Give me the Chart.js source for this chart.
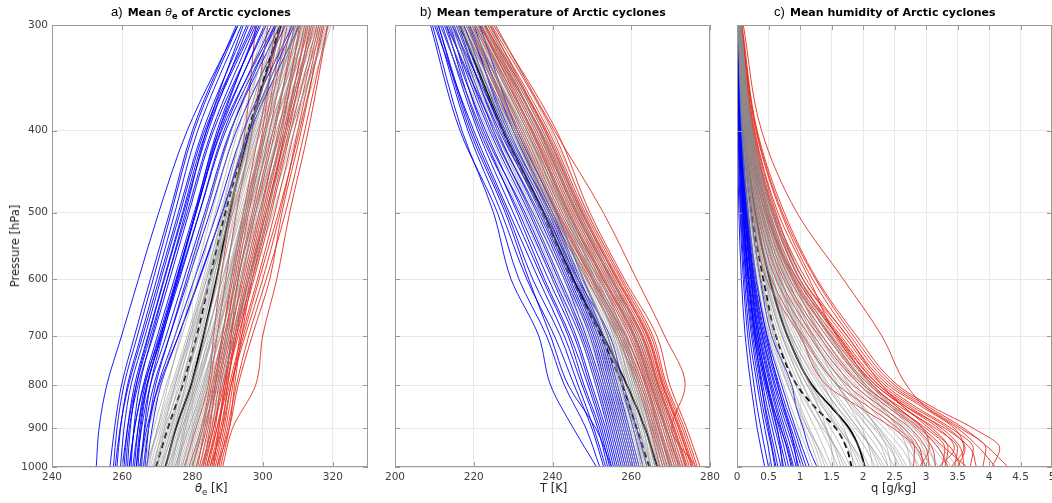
<!DOCTYPE html>
<html>
<head>
<meta charset="utf-8">
<script src="https://cdn.jsdelivr.net/npm/chart.js@4.4.1/dist/chart.umd.min.js"></script>
<style>
  body { margin: 0; background: #fff; }
  #fig { position: relative; width: 1052px; height: 503px; overflow: hidden; background: #fff; font-family: "DejaVu Sans", sans-serif; }
  #fig canvas { position: absolute; top: 0; }
  .ttl { position: absolute; top: 1px; white-space: nowrap; color: #000; line-height: 20px; }
  .ttl .tag { font-family: "Liberation Sans", sans-serif; font-size: 13px; }
  .ttl .txt { font-family: "DejaVu Sans", sans-serif; font-weight: bold; font-size: 11px; }
  .ttl i { font-weight: normal; }
  .axl { position: absolute; white-space: nowrap; color: #262626; font-size: 11.5px; line-height: 14px; }
  sub { font-size: 75%; vertical-align: -3px; line-height: 0; }
</style>
</head>
<body>
<div id="fig">
  <canvas id="cA" width="380" height="503" style="left:0;width:380px;height:503px"></canvas>
  <canvas id="cB" width="350" height="503" style="left:375px;width:350px;height:503px"></canvas>
  <canvas id="cC" width="330" height="503" style="left:722px;width:330px;height:503px"></canvas>

  <div class="ttl" style="left:111px"><span class="tag">a)</span> <span class="txt">Mean <i>θ</i><sub>e</sub> of Arctic cyclones</span></div>
  <div class="ttl" style="left:420px"><span class="tag">b)</span> <span class="txt">Mean temperature of Arctic cyclones</span></div>
  <div class="ttl" style="left:774px"><span class="tag">c)</span> <span class="txt">Mean humidity of Arctic cyclones</span></div>

  <div class="axl" style="left:195px;top:481px"><i>θ</i><sub>e</sub> [K]</div>
  <div class="axl" style="left:540px;top:481px">T [K]</div>
  <div class="axl" style="left:871px;top:481px">q [g/kg]</div>
  <div class="axl" style="left:15px;top:246px;transform:translate(-50%,-50%) rotate(-90deg);">Pressure [hPa]</div>
</div>

<script>
// ---------- pressure levels and tick labels ----------
const pressureTicks = [300, 400, 500, 600, 700, 800, 900, 1000];
const thetaTicks = [240, 260, 280, 300, 320];
const tempTicks = [200, 220, 240, 260, 280];
const qTicks = [0, 0.5, 1, 1.5, 2, 2.5, 3, 3.5, 4, 4.5, 5];

// levels (hPa) at which each profile is given
const levelsTheta = [1000, 900, 800, 700, 600, 500, 400, 300];
const levelsTemp  = [1000, 900, 800, 700, 600, 500, 400, 300];
const levelsQ     = [1000, 950, 900, 850, 800, 700, 600, 500, 400, 300];

// ---------- a) equivalent potential temperature [K] ----------
const thetaMean   = [272.3, 275.3, 279.6, 283.1, 286.8, 290.6, 296.3, 305.3];
const thetaMedian = [269.6, 273.0, 277.2, 281.2, 284.9, 289.4, 295.9, 305.0];
const thetaCold = [
  [252.6, 253.4, 255.6, 259.8, 264.6, 270.4, 278.5, 293.0],
  [256.5, 257.8, 259.8, 263.5, 268.0, 273.5, 280.0, 292.5],
  [258.0, 259.4, 261.8, 265.8, 270.5, 276.0, 283.0, 295.5],
  [259.5, 260.5, 262.5, 266.5, 271.0, 276.5, 283.5, 297.0],
  [260.0, 261.5, 264.0, 268.0, 272.8, 278.5, 285.5, 298.0],
  [261.0, 262.0, 264.5, 268.8, 273.5, 279.0, 286.0, 299.5],
  [261.5, 262.3, 264.0, 267.5, 272.0, 277.5, 284.5, 296.0],
  [262.0, 263.5, 266.0, 270.0, 274.8, 280.5, 287.5, 301.0],
  [262.5, 263.3, 265.0, 268.5, 272.8, 278.0, 284.0, 294.5],
  [263.0, 264.5, 267.0, 271.3, 276.3, 282.0, 289.0, 302.5],
  [263.5, 264.5, 266.5, 270.5, 275.3, 281.0, 288.3, 303.5],
  [264.0, 265.5, 268.0, 272.5, 277.5, 283.5, 290.8, 305.0],
  [264.5, 265.3, 267.2, 271.0, 275.5, 280.8, 287.0, 299.0],
  [265.0, 266.5, 269.0, 273.5, 278.8, 285.0, 292.5, 306.5],
  [265.5, 266.3, 268.0, 271.5, 275.8, 281.0, 287.5, 298.5],
  [266.0, 267.5, 270.2, 275.0, 280.5, 287.0, 294.5, 308.5],
  [266.5, 267.5, 269.5, 273.5, 278.3, 284.0, 291.0, 303.5],
  [267.0, 268.5, 271.0, 276.0, 281.8, 288.5, 296.5, 310.5],
  [258.5, 259.5, 261.5, 265.3, 269.8, 275.0, 281.5, 294.0],
  [260.5, 261.5, 263.5, 267.3, 271.8, 277.2, 284.0, 297.5],
  [262.0, 263.5, 266.2, 270.8, 276.0, 282.0, 289.5, 304.0],
  [264.0, 265.0, 267.0, 271.0, 275.5, 281.0, 288.0, 300.5],
  [257.5, 258.5, 260.5, 264.3, 268.8, 274.0, 280.5, 293.0],
  [265.0, 267.0, 270.5, 276.0, 282.0, 288.5, 296.0, 309.0]
];
const thetaWarm = [
  [277.7, 281.0, 284.5, 286.0, 288.0, 291.0, 295.0, 298.0],
  [279.0, 282.5, 285.0, 287.0, 289.5, 292.5, 297.0, 301.5],
  [280.0, 283.0, 285.5, 288.5, 291.0, 294.5, 299.0, 305.0],
  [281.0, 284.0, 286.0, 289.0, 292.5, 296.0, 301.0, 307.0],
  [282.0, 284.5, 287.0, 290.0, 293.0, 297.5, 303.0, 310.0],
  [282.5, 285.5, 287.5, 290.5, 294.5, 299.0, 305.0, 312.0],
  [283.0, 285.0, 286.5, 288.5, 291.5, 295.0, 300.0, 303.5],
  [283.5, 286.0, 288.5, 292.0, 296.0, 301.0, 306.5, 314.0],
  [284.0, 286.5, 288.0, 291.0, 294.0, 298.0, 303.5, 309.0],
  [284.5, 287.0, 289.5, 293.0, 297.5, 302.5, 308.0, 315.5],
  [285.0, 287.5, 289.0, 291.5, 295.0, 299.5, 304.5, 311.0],
  [285.5, 288.0, 290.5, 294.0, 298.5, 303.5, 309.0, 316.0],
  [286.0, 288.5, 290.0, 292.5, 296.0, 300.5, 306.0, 313.0],
  [286.5, 289.0, 291.0, 294.5, 299.0, 304.5, 310.5, 317.5],
  [287.0, 289.5, 291.5, 293.5, 296.5, 301.0, 307.0, 314.5],
  [287.5, 290.0, 292.5, 296.0, 301.0, 306.5, 312.0, 318.5],
  [288.0, 290.5, 292.0, 294.0, 297.0, 301.5, 306.5, 312.5],
  [288.6, 291.4, 298.0, 300.0, 304.0, 307.7, 313.0, 318.6],
  [281.5, 283.5, 286.5, 289.5, 292.0, 295.5, 300.5, 306.0],
  [284.0, 287.0, 290.0, 292.0, 295.5, 300.0, 305.5, 310.5],
  [285.0, 288.5, 291.0, 295.0, 300.0, 305.0, 310.0, 316.5],
  [286.0, 287.5, 289.5, 291.0, 293.0, 297.0, 302.0, 308.0],
  [283.0, 286.0, 289.0, 292.5, 297.0, 302.0, 307.5, 313.5],
  [287.0, 290.5, 293.0, 297.0, 302.0, 305.5, 311.0, 317.0]
];
const thetaOther = [
  [265.0, 267.5, 271.0, 275.0, 279.0, 284.0, 291.0, 301.0],
  [266.0, 269.0, 272.5, 277.0, 281.5, 286.5, 293.0, 303.0],
  [267.0, 270.0, 274.0, 278.5, 283.0, 288.0, 294.5, 304.5],
  [268.0, 271.0, 275.0, 279.0, 283.5, 289.0, 296.0, 306.0],
  [268.5, 272.0, 276.5, 280.5, 285.0, 290.0, 297.0, 308.0],
  [269.0, 272.5, 276.0, 279.5, 284.0, 288.5, 294.0, 302.5],
  [270.0, 273.5, 277.5, 282.0, 286.5, 291.5, 298.0, 309.0],
  [270.5, 274.0, 278.0, 281.0, 285.0, 289.5, 295.5, 304.0],
  [271.0, 275.0, 279.0, 283.0, 287.5, 292.5, 299.0, 310.5],
  [271.5, 274.5, 278.5, 282.5, 286.0, 290.5, 296.5, 305.5],
  [272.0, 275.5, 279.5, 284.0, 288.5, 293.5, 300.5, 311.5],
  [272.5, 276.0, 280.0, 283.5, 287.0, 291.0, 297.0, 307.0],
  [273.0, 276.5, 280.5, 285.0, 289.5, 294.5, 301.5, 313.0],
  [273.5, 277.0, 281.0, 284.5, 288.0, 292.0, 298.5, 308.5],
  [274.0, 277.5, 281.5, 286.0, 290.5, 296.0, 303.0, 314.0],
  [274.5, 278.0, 282.0, 285.5, 289.0, 293.0, 299.5, 309.5],
  [275.0, 278.5, 282.5, 287.0, 291.5, 297.0, 304.0, 315.5],
  [275.5, 279.0, 283.0, 286.5, 290.0, 294.5, 300.5, 310.0],
  [276.0, 279.5, 283.5, 288.0, 292.5, 298.0, 305.0, 316.0],
  [276.5, 280.0, 284.0, 287.5, 291.0, 295.5, 302.0, 312.0],
  [277.0, 280.5, 284.5, 289.0, 294.0, 299.5, 306.5, 317.5],
  [277.5, 281.0, 285.0, 288.5, 292.0, 296.5, 303.0, 312.5],
  [278.0, 281.5, 285.5, 290.0, 295.0, 301.0, 308.0, 319.0],
  [278.5, 282.0, 286.0, 289.5, 293.0, 297.5, 304.0, 313.5],
  [279.0, 282.5, 286.5, 291.0, 296.0, 302.0, 309.0, 318.0],
  [280.0, 283.0, 287.0, 290.5, 294.0, 298.5, 305.0, 314.5],
  [280.5, 283.5, 287.5, 292.0, 297.0, 303.0, 310.0, 319.5],
  [281.0, 284.0, 288.0, 291.5, 295.5, 300.0, 306.0, 315.0],
  [269.5, 273.0, 277.0, 281.5, 286.0, 290.5, 296.5, 305.0],
  [271.0, 274.0, 277.0, 280.5, 284.5, 289.0, 295.0, 303.5],
  [273.0, 277.0, 281.0, 285.5, 290.0, 295.0, 302.0, 311.0],
  [275.0, 279.0, 283.0, 287.0, 291.0, 296.0, 303.0, 313.0],
  [277.0, 280.0, 283.5, 287.0, 290.5, 295.0, 301.0, 309.5],
  [279.5, 283.0, 287.0, 290.0, 293.5, 298.0, 304.5, 312.0],
  [266.5, 270.5, 274.5, 279.0, 284.0, 290.0, 297.5, 307.5],
  [282.0, 285.0, 288.5, 292.0, 296.5, 301.5, 307.5, 317.0],
  [267.5, 270.0, 273.0, 276.5, 280.5, 285.5, 292.0, 301.5],
  [269.0, 271.5, 275.5, 280.0, 285.0, 291.0, 298.5, 309.5],
  [272.5, 275.0, 278.0, 281.5, 285.5, 290.0, 296.0, 304.5],
  [274.0, 276.5, 280.0, 284.0, 288.5, 294.0, 301.0, 310.5],
  [276.0, 278.0, 281.5, 285.5, 290.0, 295.5, 302.5, 311.5],
  [278.0, 280.5, 284.0, 288.0, 292.5, 298.0, 305.5, 315.0],
  [280.0, 282.5, 286.0, 289.5, 293.5, 299.0, 306.5, 316.5],
  [283.0, 285.5, 288.5, 292.0, 296.0, 301.0, 308.0, 318.5],
  [270.0, 272.0, 275.0, 279.5, 285.0, 291.5, 299.5, 310.0],
  [275.5, 277.5, 280.5, 283.5, 287.0, 291.5, 297.5, 306.5]
];

// ---------- b) temperature [K] ----------
const tempMean   = [266.6, 263.5, 258.9, 252.9, 245.3, 237.7, 227.5, 216.5];
const tempMedian = [264.6, 261.4, 257.7, 252.3, 245.0, 237.5, 227.4, 216.4];
const tempCold = [
  [251.2, 245.3, 239.5, 236.5, 229.5, 225.0, 217.0, 209.5],
  [252.0, 248.5, 243.0, 238.5, 231.5, 226.0, 216.5, 209.0],
  [253.0, 250.0, 245.5, 240.5, 233.5, 227.0, 218.5, 210.5],
  [253.5, 250.5, 246.5, 242.0, 235.0, 228.5, 219.5, 211.0],
  [254.0, 251.5, 247.5, 243.0, 236.5, 229.0, 220.0, 210.0],
  [254.5, 252.0, 248.0, 244.0, 237.5, 230.0, 221.0, 212.0],
  [255.0, 252.5, 249.0, 244.5, 238.0, 231.0, 222.0, 211.5],
  [255.5, 253.0, 249.5, 245.5, 239.0, 231.5, 221.5, 213.0],
  [256.0, 253.5, 250.0, 246.0, 240.0, 232.5, 223.0, 212.5],
  [256.5, 254.0, 251.0, 247.0, 240.5, 233.0, 222.5, 214.0],
  [257.0, 254.5, 251.5, 247.5, 241.5, 234.0, 224.0, 213.5],
  [257.5, 255.0, 252.0, 248.0, 242.0, 234.5, 225.0, 215.0],
  [258.0, 255.5, 252.5, 248.5, 243.0, 235.0, 224.5, 214.5],
  [258.5, 256.0, 253.0, 249.5, 243.5, 236.0, 226.0, 216.0],
  [259.0, 256.5, 253.5, 250.0, 244.0, 236.5, 225.5, 213.0],
  [259.5, 257.0, 254.0, 250.5, 244.5, 237.0, 227.0, 216.5],
  [260.0, 257.5, 254.5, 251.0, 245.0, 237.5, 226.5, 215.5],
  [260.5, 258.0, 255.0, 251.5, 245.5, 238.5, 228.0, 217.5],
  [261.0, 258.5, 255.5, 252.0, 246.0, 239.0, 229.0, 218.5],
  [261.5, 259.0, 256.0, 252.5, 246.5, 239.5, 228.5, 219.0],
  [262.0, 259.5, 256.5, 253.0, 247.0, 240.0, 230.0, 220.0],
  [263.0, 260.5, 257.5, 254.0, 247.8, 241.0, 231.0, 221.5],
  [255.0, 251.0, 244.0, 239.5, 234.0, 228.0, 219.0, 211.0],
  [264.0, 261.4, 258.0, 254.6, 246.5, 238.0, 227.5, 214.5]
];
const tempWarm = [
  [267.3, 264.8, 261.5, 256.4, 248.7, 239.4, 230.0, 217.3],
  [268.0, 265.3, 262.0, 257.0, 249.5, 240.0, 230.5, 218.0],
  [268.6, 265.8, 262.5, 257.5, 250.0, 240.8, 231.5, 218.5],
  [269.2, 266.3, 263.0, 258.0, 250.5, 241.5, 232.0, 219.5],
  [269.8, 266.8, 263.5, 258.8, 251.0, 242.0, 232.5, 218.8],
  [270.4, 267.4, 264.0, 259.5, 251.8, 242.5, 233.5, 220.0],
  [271.0, 268.0, 264.4, 260.0, 252.3, 243.3, 234.0, 220.5],
  [271.5, 268.5, 264.8, 260.5, 252.8, 243.8, 234.5, 221.0],
  [272.0, 269.0, 265.3, 261.0, 253.3, 244.3, 235.0, 220.3],
  [272.6, 269.5, 265.8, 261.5, 253.8, 244.8, 235.5, 221.5],
  [273.2, 270.0, 266.2, 262.0, 254.3, 245.3, 236.0, 222.0],
  [273.8, 270.5, 266.6, 262.5, 254.8, 245.8, 236.5, 222.5],
  [274.3, 271.0, 267.0, 263.0, 255.3, 246.3, 237.0, 221.3],
  [274.8, 271.5, 267.4, 263.5, 255.8, 246.8, 237.5, 223.0],
  [275.3, 272.0, 267.8, 264.0, 256.3, 247.3, 238.0, 223.5],
  [275.8, 272.5, 268.2, 264.5, 256.8, 247.8, 238.5, 222.8],
  [276.3, 273.0, 268.6, 265.0, 257.3, 248.3, 239.0, 224.0],
  [276.8, 273.5, 269.0, 265.5, 257.8, 248.8, 240.0, 224.5],
  [277.5, 274.1, 269.8, 266.5, 258.3, 249.5, 241.0, 225.0],
  [276.5, 270.3, 273.7, 268.5, 261.4, 252.9, 240.5, 225.5],
  [270.0, 267.0, 263.8, 258.5, 250.2, 241.2, 231.0, 219.0],
  [272.3, 268.8, 265.0, 260.8, 253.0, 244.0, 234.8, 221.8],
  [274.0, 270.8, 266.8, 262.8, 255.0, 246.0, 236.8, 222.8],
  [275.5, 272.2, 268.0, 264.2, 256.5, 247.5, 238.2, 224.2]
];
const tempOther = [
  [258.0, 255.5, 252.0, 248.0, 241.0, 233.5, 223.5, 212.5],
  [259.0, 256.5, 253.0, 249.0, 242.0, 234.5, 224.5, 213.5],
  [260.0, 257.5, 254.0, 250.0, 243.0, 235.5, 225.5, 214.5],
  [261.0, 258.5, 255.0, 251.0, 244.0, 236.5, 226.0, 215.0],
  [262.0, 259.5, 256.0, 252.0, 245.0, 237.0, 227.0, 215.5],
  [262.5, 260.0, 256.5, 252.5, 246.0, 238.0, 228.0, 216.5],
  [263.0, 260.5, 257.0, 253.0, 246.5, 238.5, 228.5, 217.0],
  [263.5, 261.0, 257.5, 253.5, 247.0, 239.0, 229.0, 216.0],
  [264.0, 261.5, 258.0, 254.0, 247.5, 239.5, 229.5, 218.0],
  [264.5, 262.0, 258.5, 254.5, 248.0, 240.0, 230.0, 217.5],
  [265.0, 262.5, 259.0, 255.0, 248.5, 240.5, 230.5, 218.5],
  [265.5, 263.0, 259.5, 255.5, 249.0, 241.0, 231.0, 219.0],
  [266.0, 263.5, 260.0, 256.0, 249.5, 241.5, 231.5, 218.0],
  [266.5, 264.0, 260.5, 256.5, 250.0, 242.0, 232.0, 219.5],
  [267.0, 264.5, 261.0, 257.0, 250.5, 242.5, 232.5, 220.0],
  [267.5, 265.0, 261.5, 257.5, 251.0, 243.0, 233.0, 219.0],
  [268.0, 265.5, 262.0, 258.0, 251.5, 243.5, 233.5, 220.5],
  [268.5, 266.0, 262.5, 258.5, 252.0, 244.0, 234.0, 221.0],
  [269.0, 266.5, 263.0, 259.0, 252.5, 244.5, 234.5, 221.5],
  [269.5, 267.0, 263.5, 259.5, 253.0, 245.0, 235.0, 220.5],
  [270.0, 267.5, 264.0, 260.0, 253.5, 245.5, 235.5, 222.0],
  [270.5, 268.0, 264.5, 260.5, 254.0, 246.0, 236.0, 222.5],
  [271.0, 268.5, 265.0, 261.0, 254.5, 246.5, 236.5, 223.0],
  [271.5, 269.0, 265.5, 261.5, 255.0, 247.0, 237.0, 222.0],
  [272.0, 269.5, 266.0, 262.0, 255.5, 247.5, 237.5, 223.5],
  [273.0, 270.0, 266.5, 262.5, 256.0, 248.0, 238.0, 224.0],
  [265.0, 263.0, 259.5, 256.5, 250.5, 244.0, 234.5, 221.0],
  [262.5, 260.5, 257.0, 254.0, 248.0, 241.0, 231.5, 219.5],
  [268.0, 265.0, 261.0, 256.5, 249.0, 240.0, 229.5, 216.5],
  [270.5, 267.0, 262.5, 258.0, 250.5, 241.5, 231.0, 218.0],
  [260.5, 258.0, 255.0, 252.0, 246.0, 239.5, 230.5, 219.0],
  [266.0, 264.0, 261.0, 258.0, 252.5, 246.0, 236.5, 224.0],
  [273.5, 271.0, 267.0, 263.5, 257.5, 249.0, 239.5, 225.5],
  [257.0, 254.5, 251.0, 247.0, 240.0, 232.0, 222.0, 211.5],
  [269.0, 266.0, 262.0, 258.5, 252.0, 244.0, 233.0, 218.5],
  [264.0, 261.0, 257.5, 253.0, 246.0, 237.5, 227.0, 214.0],
  [259.5, 257.0, 253.5, 249.5, 243.0, 235.0, 225.5, 214.0],
  [261.5, 259.0, 255.5, 251.5, 245.0, 237.5, 227.5, 216.0],
  [263.0, 261.0, 257.5, 254.0, 248.0, 240.5, 230.5, 218.5],
  [265.0, 262.0, 258.0, 254.0, 247.5, 239.0, 228.5, 216.5],
  [267.0, 264.0, 260.5, 257.0, 251.0, 243.5, 233.5, 221.0],
  [268.5, 265.5, 261.5, 257.5, 251.5, 243.0, 232.5, 219.5],
  [270.0, 267.5, 264.0, 260.5, 254.5, 247.0, 237.5, 224.5],
  [272.5, 269.5, 265.5, 261.5, 255.0, 246.5, 236.0, 222.0],
  [266.0, 263.5, 260.0, 256.0, 249.0, 240.5, 230.0, 217.0],
  [264.0, 262.0, 259.0, 255.5, 250.0, 243.0, 233.0, 220.5]
];

// ---------- c) specific humidity [g/kg] ----------
const qMean   = [2.03, 1.94, 1.78, 1.50, 1.19, 0.80, 0.52, 0.29, 0.13, 0.02];
const qMedian = [1.82, 1.74, 1.57, 1.24, 0.95, 0.62, 0.42, 0.23, 0.10, 0.02];
const qCold = [
  [0.44, 0.38, 0.32, 0.27, 0.22, 0.13, 0.07, 0.03, 0.01, 0.00],
  [0.50, 0.44, 0.38, 0.32, 0.27, 0.17, 0.10, 0.05, 0.02, 0.01],
  [0.55, 0.50, 0.44, 0.38, 0.32, 0.20, 0.12, 0.06, 0.03, 0.01],
  [0.60, 0.55, 0.48, 0.41, 0.35, 0.23, 0.14, 0.07, 0.03, 0.01],
  [0.65, 0.59, 0.52, 0.45, 0.38, 0.25, 0.15, 0.08, 0.04, 0.01],
  [0.70, 0.63, 0.56, 0.48, 0.41, 0.27, 0.16, 0.09, 0.04, 0.01],
  [0.74, 0.68, 0.60, 0.52, 0.44, 0.29, 0.18, 0.10, 0.04, 0.01],
  [0.78, 0.71, 0.63, 0.55, 0.46, 0.31, 0.19, 0.10, 0.05, 0.01],
  [0.82, 0.75, 0.67, 0.58, 0.49, 0.33, 0.20, 0.11, 0.05, 0.02],
  [0.86, 0.79, 0.70, 0.61, 0.52, 0.35, 0.22, 0.12, 0.05, 0.02],
  [0.90, 0.82, 0.73, 0.63, 0.54, 0.36, 0.23, 0.13, 0.06, 0.02],
  [0.94, 0.86, 0.76, 0.66, 0.56, 0.38, 0.24, 0.13, 0.06, 0.02],
  [0.98, 0.90, 0.80, 0.69, 0.59, 0.40, 0.25, 0.14, 0.06, 0.02],
  [1.02, 0.93, 0.83, 0.72, 0.61, 0.41, 0.26, 0.15, 0.07, 0.02],
  [1.06, 0.96, 0.86, 0.75, 0.64, 0.43, 0.27, 0.15, 0.07, 0.02],
  [1.10, 1.00, 0.90, 0.78, 0.67, 0.45, 0.28, 0.16, 0.07, 0.02],
  [1.15, 1.04, 0.93, 0.82, 0.71, 0.48, 0.30, 0.17, 0.08, 0.03],
  [1.27, 1.14, 1.05, 0.94, 0.87, 0.55, 0.37, 0.22, 0.10, 0.03],
  [0.72, 0.69, 0.64, 0.56, 0.48, 0.33, 0.22, 0.12, 0.05, 0.01],
  [0.88, 0.80, 0.69, 0.57, 0.47, 0.30, 0.18, 0.10, 0.04, 0.01],
  [0.96, 0.91, 0.84, 0.74, 0.65, 0.47, 0.31, 0.18, 0.08, 0.02],
  [0.62, 0.56, 0.50, 0.44, 0.39, 0.28, 0.18, 0.10, 0.05, 0.01]
];
const qWarm = [
  [2.80, 2.82, 2.55, 2.10, 1.60, 1.05, 0.55, 0.28, 0.11, 0.03],
  [2.95, 2.90, 2.65, 2.20, 1.75, 1.15, 0.62, 0.32, 0.13, 0.03],
  [3.05, 3.00, 2.75, 2.30, 1.85, 1.22, 0.68, 0.35, 0.15, 0.04],
  [3.15, 3.10, 2.85, 2.40, 1.95, 1.30, 0.74, 0.38, 0.16, 0.04],
  [3.25, 3.30, 3.00, 2.50, 2.00, 1.35, 0.78, 0.41, 0.17, 0.04],
  [3.35, 3.20, 2.90, 2.45, 2.05, 1.42, 0.84, 0.44, 0.19, 0.05],
  [3.45, 3.50, 3.15, 2.60, 2.10, 1.48, 0.88, 0.47, 0.20, 0.05],
  [3.55, 3.40, 3.05, 2.65, 2.20, 1.55, 0.92, 0.50, 0.21, 0.05],
  [3.60, 3.55, 3.25, 2.75, 2.25, 1.60, 0.96, 0.52, 0.22, 0.06],
  [3.50, 3.62, 3.35, 2.80, 2.30, 1.65, 1.00, 0.55, 0.23, 0.06],
  [3.70, 3.75, 3.40, 2.85, 2.35, 1.70, 1.05, 0.58, 0.25, 0.06],
  [3.40, 3.60, 3.45, 2.95, 2.40, 1.75, 1.10, 0.60, 0.26, 0.06],
  [3.80, 3.70, 3.30, 2.70, 2.20, 1.58, 1.15, 0.65, 0.28, 0.07],
  [3.90, 3.95, 3.55, 3.00, 2.45, 1.80, 1.20, 0.70, 0.30, 0.07],
  [4.05, 4.17, 3.75, 3.11, 2.55, 1.90, 1.27, 0.75, 0.32, 0.08],
  [4.30, 4.00, 3.60, 3.05, 2.50, 1.85, 1.25, 0.72, 0.31, 0.07],
  [2.90, 3.05, 2.95, 2.55, 2.15, 1.50, 0.90, 0.48, 0.20, 0.05],
  [3.20, 3.45, 3.20, 2.70, 2.25, 1.62, 1.00, 0.57, 0.24, 0.06],
  [4.10, 3.85, 3.50, 3.00, 2.69, 2.30, 1.69, 0.95, 0.39, 0.10],
  [3.00, 2.85, 2.48, 1.95, 1.42, 1.00, 0.47, 0.25, 0.10, 0.02],
  [3.65, 3.30, 2.95, 2.55, 2.15, 1.60, 0.95, 0.45, 0.18, 0.04],
  [3.30, 3.35, 3.10, 2.65, 2.30, 1.75, 1.05, 0.62, 0.27, 0.06]
];
const qOther = [
  [1.20, 1.10, 0.98, 0.86, 0.74, 0.50, 0.32, 0.18, 0.08, 0.02],
  [1.30, 1.20, 1.07, 0.94, 0.81, 0.55, 0.35, 0.20, 0.09, 0.02],
  [1.40, 1.29, 1.15, 1.01, 0.87, 0.59, 0.38, 0.21, 0.09, 0.02],
  [1.50, 1.38, 1.24, 1.08, 0.93, 0.63, 0.40, 0.23, 0.10, 0.03],
  [1.60, 1.48, 1.33, 1.16, 0.99, 0.67, 0.43, 0.24, 0.11, 0.03],
  [1.70, 1.57, 1.41, 1.23, 1.05, 0.71, 0.45, 0.26, 0.11, 0.03],
  [1.80, 1.66, 1.49, 1.30, 1.11, 0.75, 0.48, 0.27, 0.12, 0.03],
  [1.90, 1.76, 1.58, 1.37, 1.17, 0.79, 0.50, 0.28, 0.12, 0.03],
  [2.00, 1.85, 1.66, 1.44, 1.23, 0.83, 0.53, 0.30, 0.13, 0.03],
  [2.10, 1.95, 1.75, 1.52, 1.29, 0.87, 0.56, 0.31, 0.14, 0.03],
  [2.20, 2.04, 1.83, 1.59, 1.35, 0.91, 0.58, 0.33, 0.14, 0.04],
  [2.30, 2.14, 1.92, 1.66, 1.41, 0.95, 0.61, 0.34, 0.15, 0.04],
  [2.40, 2.23, 2.00, 1.73, 1.47, 0.99, 0.63, 0.36, 0.15, 0.04],
  [2.50, 2.33, 2.09, 1.81, 1.53, 1.03, 0.66, 0.37, 0.16, 0.04],
  [2.60, 2.42, 2.17, 1.88, 1.59, 1.07, 0.68, 0.39, 0.17, 0.04],
  [2.70, 2.52, 2.26, 1.95, 1.65, 1.11, 0.71, 0.40, 0.17, 0.04],
  [2.80, 2.61, 2.34, 2.02, 1.71, 1.15, 0.74, 0.42, 0.18, 0.05],
  [2.90, 2.71, 2.43, 2.10, 1.77, 1.19, 0.76, 0.43, 0.19, 0.05],
  [3.00, 2.80, 2.51, 2.17, 1.83, 1.23, 0.79, 0.45, 0.19, 0.05],
  [3.10, 2.90, 2.60, 2.24, 1.89, 1.27, 0.81, 0.46, 0.20, 0.05],
  [3.20, 3.00, 2.70, 2.32, 1.95, 1.31, 0.84, 0.47, 0.20, 0.05],
  [3.35, 3.12, 2.80, 2.40, 2.02, 1.36, 0.87, 0.49, 0.21, 0.05],
  [3.50, 3.25, 2.92, 2.50, 2.10, 1.42, 0.90, 0.51, 0.22, 0.06],
  [1.55, 1.50, 1.42, 1.30, 1.15, 0.85, 0.58, 0.34, 0.15, 0.04],
  [1.85, 1.80, 1.70, 1.55, 1.38, 1.02, 0.70, 0.40, 0.17, 0.04],
  [2.15, 2.10, 1.98, 1.80, 1.60, 1.20, 0.82, 0.47, 0.20, 0.05],
  [2.45, 2.38, 2.22, 2.00, 1.78, 1.32, 0.90, 0.52, 0.22, 0.05],
  [2.75, 2.70, 2.55, 2.30, 2.02, 1.48, 1.00, 0.57, 0.24, 0.06],
  [3.05, 2.95, 2.75, 2.45, 2.12, 1.55, 1.05, 0.60, 0.26, 0.06],
  [1.45, 1.30, 1.12, 0.95, 0.80, 0.52, 0.31, 0.17, 0.07, 0.02],
  [1.75, 1.58, 1.36, 1.14, 0.95, 0.62, 0.38, 0.21, 0.09, 0.02],
  [2.05, 1.86, 1.61, 1.36, 1.12, 0.72, 0.45, 0.25, 0.11, 0.03],
  [2.35, 2.15, 1.88, 1.60, 1.33, 0.86, 0.54, 0.30, 0.13, 0.03],
  [2.65, 2.48, 2.20, 1.88, 1.58, 1.02, 0.64, 0.35, 0.15, 0.04],
  [1.65, 1.55, 1.40, 1.22, 1.04, 0.72, 0.47, 0.27, 0.12, 0.03],
  [1.95, 1.82, 1.62, 1.40, 1.18, 0.80, 0.52, 0.29, 0.13, 0.03],
  [2.25, 2.12, 1.92, 1.68, 1.44, 1.00, 0.66, 0.38, 0.16, 0.04],
  [2.55, 2.45, 2.25, 1.98, 1.70, 1.18, 0.78, 0.44, 0.19, 0.05],
  [2.85, 2.78, 2.60, 2.28, 1.95, 1.36, 0.89, 0.50, 0.21, 0.05],
  [3.15, 3.05, 2.82, 2.48, 2.12, 1.46, 0.94, 0.53, 0.23, 0.06],
  [3.40, 3.20, 2.88, 2.50, 2.15, 1.52, 1.00, 0.56, 0.24, 0.06],
  [1.35, 1.25, 1.12, 0.98, 0.84, 0.58, 0.38, 0.22, 0.10, 0.02],
  [2.40, 2.30, 2.10, 1.85, 1.58, 1.08, 0.70, 0.40, 0.17, 0.04],
  [2.95, 2.85, 2.65, 2.35, 2.05, 1.45, 0.98, 0.56, 0.24, 0.06]
];

// ---------- styling ----------
const COLD = '#0000ff';
const WARM = 'rgb(232,44,32)';
const OTHER = 'rgba(140,140,140,0.55)';
const GRID = '#e9e9e9';
const FRAME = '#9a9a9a';
const TICKTEXT = '#404040';
const tickFont = { family: 'DejaVu Sans', size: 10.5 };

function profile(levels, values, color, width, dash) {
  return {
    data: levels.map((p, i) => ({ x: values[i], y: p })),
    borderColor: color,
    borderWidth: width,
    borderDash: dash || [],
    pointRadius: 0,
    fill: false,
    cubicInterpolationMode: 'monotone'
  };
}

// box around the axes with inward tick marks on all four sides
const axesBox = {
  id: 'axesBox',
  afterDraw(chart) {
    const { ctx, chartArea: a, scales: { x, y } } = chart;
    const len = 5;
    ctx.save();
    ctx.strokeStyle = FRAME;
    ctx.lineWidth = 1;
    ctx.beginPath();
    x.ticks.forEach(t => {
      const px = Math.round(x.getPixelForValue(t.value)) + 0.5;
      ctx.moveTo(px, a.bottom); ctx.lineTo(px, a.bottom - len);
      ctx.moveTo(px, a.top); ctx.lineTo(px, a.top + len);
    });
    y.ticks.forEach(t => {
      const py = Math.round(y.getPixelForValue(t.value)) + 0.5;
      ctx.moveTo(a.left, py); ctx.lineTo(a.left + len, py);
      ctx.moveTo(a.right, py); ctx.lineTo(a.right - len, py);
    });
    ctx.stroke();
    ctx.strokeRect(a.left + 0.5, a.top + 0.5, a.right - a.left - 1, a.bottom - a.top - 1);
    ctx.restore();
  }
};

function panel(id, cfg) {
  const datasets = [];
  cfg.other.forEach(v => datasets.push(profile(cfg.levels, v, OTHER, 1)));
  cfg.cold.forEach(v => datasets.push(profile(cfg.levels, v, COLD, 0.9)));
  cfg.warm.forEach(v => datasets.push(profile(cfg.levels, v, WARM, 0.9)));
  datasets.push(profile(cfg.levels, cfg.median, '#000', 1.8, [6, 4]));
  datasets.push(profile(cfg.levels, cfg.mean, '#000', 1.8));

  new Chart(document.getElementById(id), {
    type: 'line',
    data: { datasets },
    plugins: [axesBox],
    options: {
      indexAxis: 'y',
      responsive: false,
      animation: false,
      events: [],
      layout: { padding: { left: 0, right: cfg.padRight, top: 25, bottom: 0 } },
      plugins: { legend: { display: false }, tooltip: { enabled: false }, title: { display: false } },
      scales: {
        x: {
          type: 'linear',
          min: cfg.xMin,
          max: cfg.xMax,
          afterBuildTicks: s => { s.ticks = cfg.xTicks.map(v => ({ value: v })); },
          afterFit: s => { s.height = 36; s.paddingLeft = 0; s.paddingRight = 0; },
          ticks: { font: tickFont, color: TICKTEXT, padding: 4, maxRotation: 0, autoSkip: false, callback: v => String(v) },
          grid: { color: GRID, drawTicks: false },
          border: { display: false }
        },
        y: {
          type: 'logarithmic',
          reverse: true,
          min: 300,
          max: 1000,
          afterBuildTicks: s => { s.ticks = pressureTicks.map(v => ({ value: v })); },
          afterFit: s => { s.width = cfg.yWidth; s.paddingTop = 0; s.paddingBottom = 0; },
          ticks: { display: cfg.yLabels, font: tickFont, color: TICKTEXT, padding: 4, callback: v => String(v) },
          grid: { color: GRID, drawTicks: false },
          border: { display: false }
        }
      }
    }
  });
}

panel('cA', { levels: levelsTheta, cold: thetaCold, warm: thetaWarm, other: thetaOther,
  mean: thetaMean, median: thetaMedian, xMin: 240, xMax: 330, xTicks: thetaTicks,
  yWidth: 52, yLabels: true, padRight: 12 });
panel('cB', { levels: levelsTemp, cold: tempCold, warm: tempWarm, other: tempOther,
  mean: tempMean, median: tempMedian, xMin: 200, xMax: 280, xTicks: tempTicks,
  yWidth: 20, yLabels: false, padRight: 15 });
panel('cC', { levels: levelsQ, cold: qCold, warm: qWarm, other: qOther,
  mean: qMean, median: qMedian, xMin: 0, xMax: 5, xTicks: qTicks,
  yWidth: 15, yLabels: false, padRight: 0 });
</script>
</body>
</html>
